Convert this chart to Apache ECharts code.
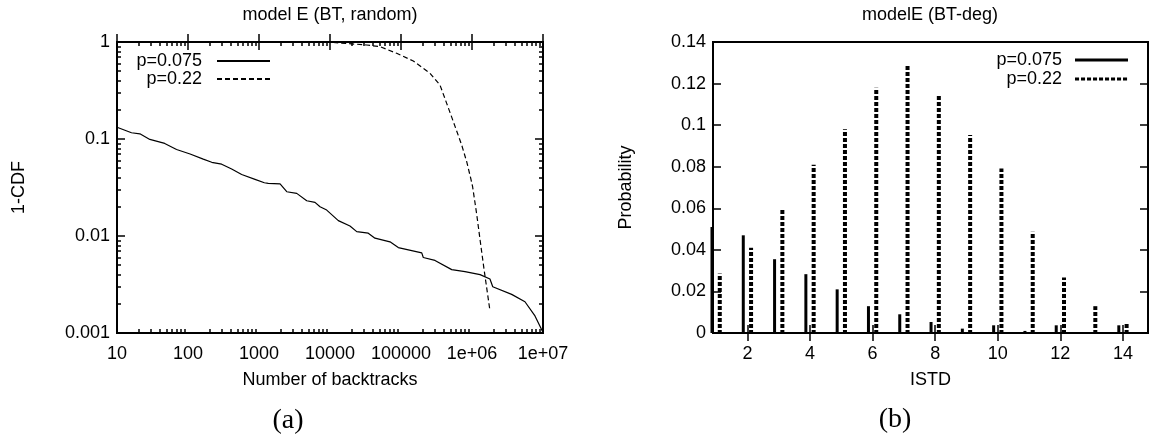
<!DOCTYPE html>
<html>
<head>
<meta charset="utf-8">
<script src="https://cdn.jsdelivr.net/npm/echarts@6/dist/echarts.min.js"></script>
<style>
html, body { margin: 0; padding: 0; background: #fff; }
#chart { width: 1149px; height: 438px; }
</style>
</head>
<body>
<div id="chart"></div>
<script>
// (a) 1-CDF of the number of backtracks (log-log)
var cdfLow = [[10,0.132],[16,0.116],[21,0.113],[29,0.099],[47,0.090],[69,0.078],[107,0.070],[164,0.062],
    [216,0.0575],[298,0.055],[412,0.049],[570,0.043],[879,0.0384],[1190,0.0354],[1350,0.0349],[1980,0.0344],
    [2460,0.0286],[3400,0.0275],[4700,0.0231],[6150,0.0222],[7230,0.0200],[8990,0.0185],[13100,0.0144],
    [19100,0.0127],[23800,0.0111],[34600,0.0107],[43000,0.0095],[70000,0.0087],[91600,0.0076],[196000,0.0067],
    [206000,0.0060],[301000,0.0056],[518000,0.0045],[796000,0.0043],[1300000,0.0040],[1790000,0.0036],
    [1960000,0.0030],[3620000,0.0025],[5570000,0.0021],[7710000,0.0015],[9900000,0.00103]];
var cdfHigh = [[11100,0.99],[32900,0.931],[50600,0.895],[86900,0.765],[149000,0.637],[256000,0.476],
    [354000,0.360],[440000,0.233],[546000,0.151],[716000,0.0867],[842000,0.0583],[959000,0.0394],
    [1020000,0.0322],[1160000,0.0171],[1300000,0.0091],[1480000,0.0045],[1790000,0.0017]];
var backtrackTicks = [10, 100, 1000, 10000, 100000, 1000000, 10000000];
var backtrackLabels = ['10', '100', '1000', '10000', '100000', '1e+06', '1e+07'];
var cdfTicks = [0.001, 0.01, 0.1, 1];
var cdfLabels = ['0.001', '0.01', '0.1', '1'];

// (b) ISTD histogram
var istd = [1,2,3,4,5,6,7,8,9,10,11,12,13,14];
var probLow = [0.051,0.047,0.0355,0.0283,0.021,0.0129,0.009,0.0053,0.0021,0.0037,0.001,0.0037,0,0.0037];
var probHigh = [0.0286,0.041,0.060,0.081,0.098,0.118,0.1287,0.1146,0.0953,0.0792,0.0487,0.0267,0.0129,0.0045];
var istdTicks = [2,4,6,8,10,12,14];

var font = 'Liberation Sans, Arial, sans-serif';
var txt = { color: '#000', fontSize: 18, fontFamily: font };

function log10(v) { return Math.log(v) / Math.LN10; }
function minorLogs(decades) {
    var out = [];
    for (var i = 0; i < decades.length - 1; i++) {
        for (var m = 2; m <= 9; m++) out.push(log10(decades[i] * m));
    }
    return out;
}
function labelFor(ticks, labels, v) {
    for (var i = 0; i < ticks.length; i++) {
        if (Math.abs(log10(ticks[i]) - log10(v)) < 0.01) return labels[i];
    }
    return '';
}
function stripes(w, h, on, vertical) {
    var c = document.createElement('canvas');
    c.width = w; c.height = h;
    var ctx = c.getContext('2d');
    ctx.fillStyle = '#000';
    if (vertical) ctx.fillRect(0, 0, w, on); else ctx.fillRect(0, 0, on, h);
    return { image: c, repeat: 'repeat' };
}
var barDash = stripes(4, 6, 4, true);
var legendDash = stripes(6, 3, 4, false);

function tick(len, extra) {
    var t = { show: true, inside: true, length: len, lineStyle: { color: '#000', width: 1.5 } };
    for (var k in extra) t[k] = extra[k];
    return t;
}
var noLine = { show: false };
var noSplit = { show: false };
var noLabel = { show: false };

var bx = [log10(backtrackTicks[0]), log10(backtrackTicks[backtrackTicks.length - 1])];
var by = [log10(cdfTicks[0]), log10(cdfTicks[cdfTicks.length - 1])];

var chart = echarts.init(document.getElementById('chart'));
var option = {
    animation: false,
    backgroundColor: '#fff',
    grid: [
        { left: 117, top: 42, width: 426, height: 291, show: true, borderColor: '#000', borderWidth: 2 },
        { left: 713, top: 42, width: 435, height: 291, show: true, borderColor: '#000', borderWidth: 2 }
    ],
    xAxis: [
        { type: 'log', logBase: 10, gridIndex: 0, position: 'bottom', min: backtrackTicks[0], max: backtrackTicks[6],
          axisLine: noLine, splitLine: noSplit, axisTick: tick(8),
          axisLabel: { margin: 12, color: '#000', fontSize: 18, fontFamily: font,
              formatter: function (v) { return labelFor(backtrackTicks, backtrackLabels, v); } },
          name: 'Number of backtracks', nameLocation: 'middle', nameGap: 38, nameTextStyle: txt },
        { type: 'log', logBase: 10, gridIndex: 0, position: 'top', min: backtrackTicks[0], max: backtrackTicks[6],
          axisLine: noLine, splitLine: noSplit, axisTick: tick(8), axisLabel: noLabel },
        { type: 'value', gridIndex: 0, position: 'bottom', min: bx[0], max: bx[1],
          axisLine: noLine, splitLine: noSplit, axisLabel: noLabel,
          axisTick: tick(4, { customValues: minorLogs(backtrackTicks) }) },
        { type: 'value', gridIndex: 0, position: 'top', min: bx[0], max: bx[1],
          axisLine: noLine, splitLine: noSplit, axisLabel: noLabel,
          axisTick: tick(4, { customValues: minorLogs(backtrackTicks) }) },
        { type: 'value', gridIndex: 1, position: 'bottom', min: 0.9, max: 14.8,
          axisLine: noLine, splitLine: noSplit, axisTick: tick(8, { customValues: istdTicks }),
          axisLabel: { margin: 12, color: '#000', fontSize: 18, fontFamily: font, customValues: istdTicks },
          name: 'ISTD', nameLocation: 'middle', nameGap: 38, nameTextStyle: txt },
        { type: 'value', gridIndex: 1, position: 'top', min: 0.9, max: 14.8,
          axisLine: noLine, splitLine: noSplit, axisLabel: noLabel,
          axisTick: tick(8, { customValues: istdTicks }) }
    ],
    yAxis: [
        { type: 'log', logBase: 10, gridIndex: 0, position: 'left', min: cdfTicks[0], max: cdfTicks[3],
          axisLine: noLine, splitLine: noSplit, axisTick: tick(8),
          axisLabel: { margin: 7, color: '#000', fontSize: 18, fontFamily: font,
              formatter: function (v) { return labelFor(cdfTicks, cdfLabels, v); } },
          name: '1-CDF', nameLocation: 'middle', nameGap: 89, nameTextStyle: txt },
        { type: 'log', logBase: 10, gridIndex: 0, position: 'right', min: cdfTicks[0], max: cdfTicks[3],
          axisLine: noLine, splitLine: noSplit, axisTick: tick(8), axisLabel: noLabel },
        { type: 'value', gridIndex: 0, position: 'left', min: by[0], max: by[1],
          axisLine: noLine, splitLine: noSplit, axisLabel: noLabel,
          axisTick: tick(4, { customValues: minorLogs(cdfTicks) }) },
        { type: 'value', gridIndex: 0, position: 'right', min: by[0], max: by[1],
          axisLine: noLine, splitLine: noSplit, axisLabel: noLabel,
          axisTick: tick(4, { customValues: minorLogs(cdfTicks) }) },
        { type: 'value', gridIndex: 1, position: 'left', min: 0, max: 0.14, interval: 0.02,
          axisLine: noLine, splitLine: noSplit, axisTick: tick(8),
          axisLabel: { margin: 7, color: '#000', fontSize: 18, fontFamily: font },
          name: 'Probability', nameLocation: 'middle', nameGap: 78, nameTextStyle: txt },
        { type: 'value', gridIndex: 1, position: 'right', min: 0, max: 0.14, interval: 0.02,
          axisLine: noLine, splitLine: noSplit, axisTick: tick(8), axisLabel: noLabel }
    ],
    legend: [
        { data: ['p=0.075'], right: 878, top: 52, orient: 'vertical', align: 'right', padding: 0,
          itemWidth: 53, itemHeight: 14, itemStyle: { opacity: 0 },
          textStyle: { color: '#000', fontSize: 18, fontFamily: font, padding: [0, 10, 0, 0] } },
        { data: ['p=0.22'], right: 878, top: 70, orient: 'vertical', align: 'right', padding: 0,
          itemWidth: 53, itemHeight: 14, itemStyle: { opacity: 0 },
          textStyle: { color: '#000', fontSize: 18, fontFamily: font, padding: [0, 10, 0, 0] } },
        { data: [{ name: 'p=0.075|b', icon: 'rect', itemStyle: { color: '#000' } }], right: 21, top: 51,
          orient: 'vertical', align: 'right', padding: 0, itemWidth: 53, itemHeight: 3,
          formatter: function (n) { return n.split('|')[0]; },
          textStyle: { color: '#000', fontSize: 18, fontFamily: font, padding: [0, 8, 0, 0] } },
        { data: [{ name: 'p=0.22|b', icon: 'rect', itemStyle: { color: legendDash } }], right: 21, top: 70,
          orient: 'vertical', align: 'right', padding: 0, itemWidth: 53, itemHeight: 3,
          formatter: function (n) { return n.split('|')[0]; },
          textStyle: { color: '#000', fontSize: 18, fontFamily: font, padding: [0, 8, 0, 0] } }
    ],
    graphic: [
        { type: 'text', x: 330, y: 15, style: { text: 'model E (BT, random)', fill: '#000', fontSize: 18, fontFamily: font, align: 'center', verticalAlign: 'middle' } },
        { type: 'text', x: 930, y: 15, style: { text: 'modelE (BT-deg)', fill: '#000', fontSize: 18, fontFamily: font, align: 'center', verticalAlign: 'middle' } },
        { type: 'text', x: 288, y: 421, style: { text: '(a)', fill: '#000', fontSize: 28, fontFamily: 'Liberation Serif, Times New Roman, serif', align: 'center', verticalAlign: 'middle' } },
        { type: 'text', x: 895, y: 420, style: { text: '(b)', fill: '#000', fontSize: 28, fontFamily: 'Liberation Serif, Times New Roman, serif', align: 'center', verticalAlign: 'middle' } }
    ],
    series: [
        { name: 'p=0.075', type: 'line', xAxisIndex: 0, yAxisIndex: 0, data: cdfLow, symbol: 'none',
          color: '#000', lineStyle: { color: '#000', width: 1.2 } },
        { name: 'p=0.22', type: 'line', xAxisIndex: 0, yAxisIndex: 0, data: cdfHigh, symbol: 'none',
          color: '#000', lineStyle: { color: '#000', width: 1.2, type: [5, 3] } },
        { name: 'p=0.075|b', type: 'bar', xAxisIndex: 4, yAxisIndex: 4, barWidth: 3, barGap: '143%', clip: false,
          data: istd.map(function (x, i) { return [x, probLow[i]]; }), itemStyle: { color: '#000' } },
        { name: 'p=0.22|b', type: 'bar', xAxisIndex: 4, yAxisIndex: 4, barWidth: 4, barGap: '143%', clip: false,
          data: istd.map(function (x, i) { return [x, probHigh[i]]; }), itemStyle: { color: barDash } }
    ]
};
chart.setOption(option);
</script>
</body>
</html>
